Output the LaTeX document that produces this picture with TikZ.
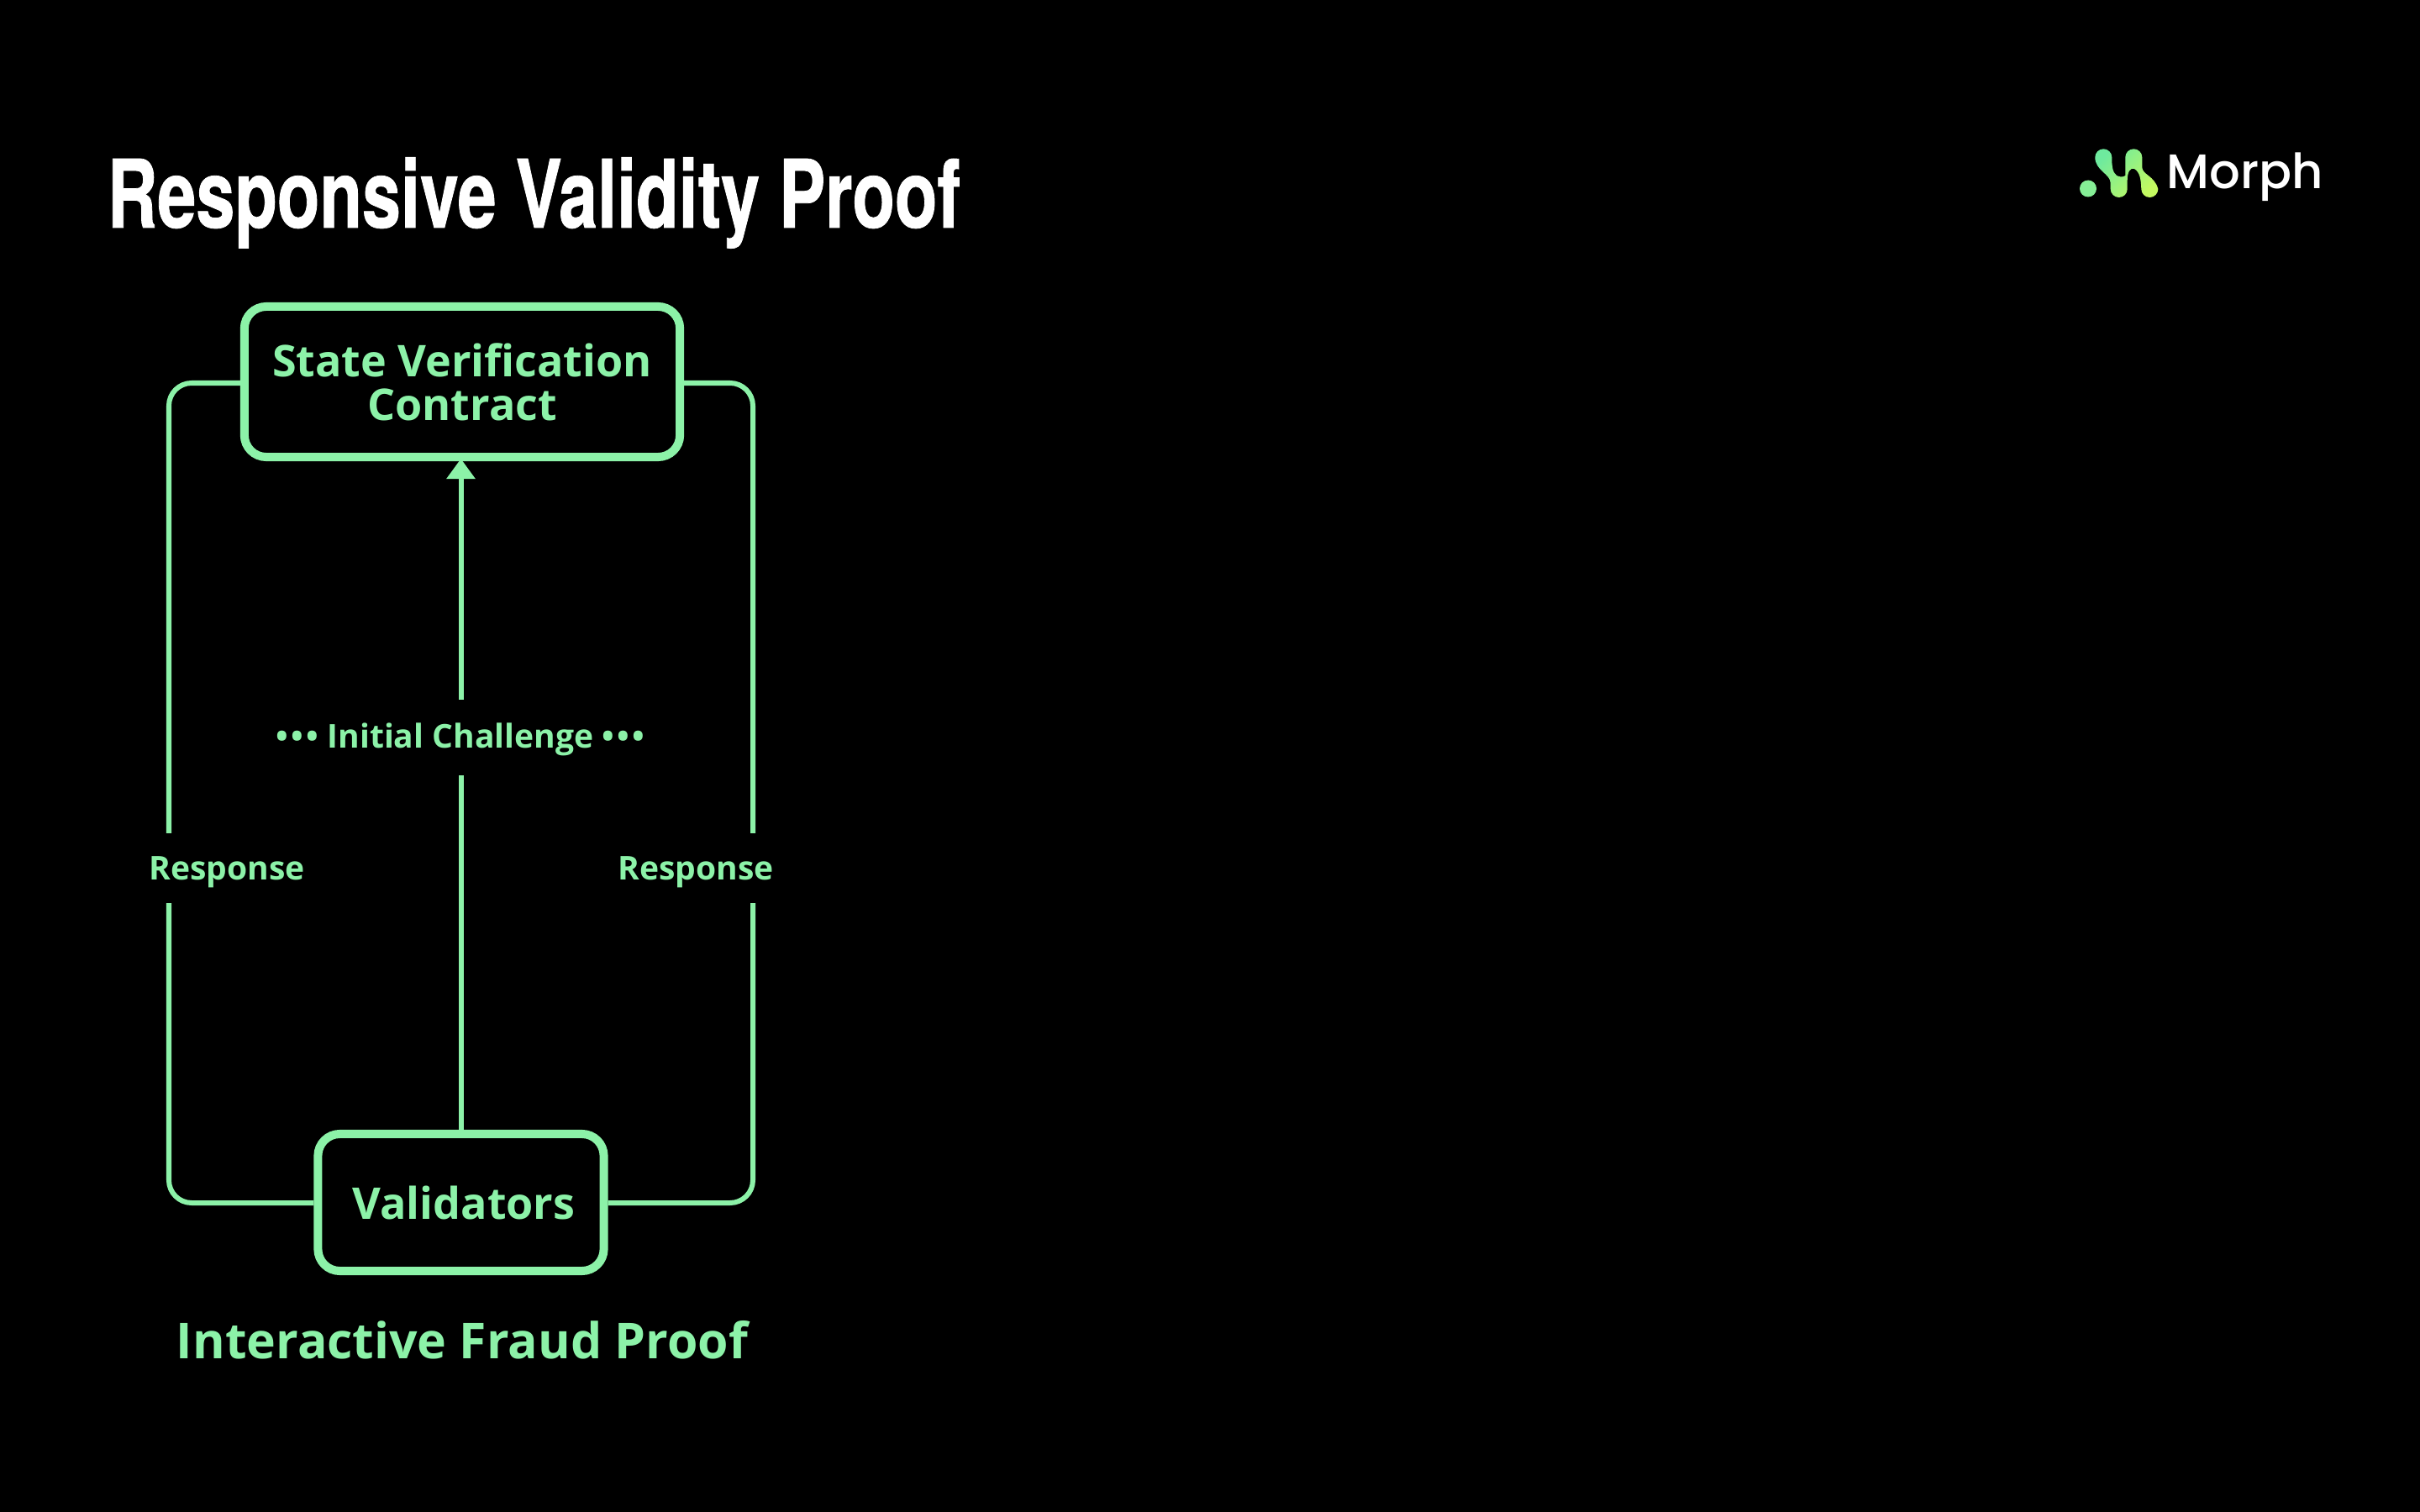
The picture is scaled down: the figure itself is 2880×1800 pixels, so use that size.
\documentclass[tikz,border=0pt]{standalone}
\usepackage{fontspec}
\usepackage{tikz}
\usetikzlibrary{arrows.meta,calc}
\setmainfont{Open Sans}
\newfontfamily\titlefont[FakeStretch=0.735,BoldFeatures={FakeBold=0.7}]{TeX Gyre Heros}
\newfontfamily\logofont[UprightFont=* Medium]{Poppins}
\definecolor{mint}{HTML}{8CF2A8}
\definecolor{limeglow}{HTML}{C4FA60}
\definecolor{tealglow}{HTML}{6EEA9E}
\definecolor{dotglow}{HTML}{85EE96}
\newcommand{\dotrow}{•\kern1pt•\kern1pt•}

\begin{document}
\begin{tikzpicture}[
    x=0.01cm, y=-0.01cm,
    box/.style={draw=mint, rounded corners=0.26cm, line width=0.1cm, fill=black, text=mint, align=center, font=\fontsize{14.8}{14.8}\selectfont\bfseries, inner sep=0pt},
    link/.style={draw=mint, line width=0.06cm, rounded corners=0.27cm},
    tag/.style={anchor=base, fill=black, text=mint, font=\fontsize{11.1}{13}\selectfont\bfseries, inner sep=0pt}
  ]
    \fill[black] (0,0) rectangle (2880,1800);
    \useasboundingbox (0,0) rectangle (2880,1800);

    \node[anchor=base west, text=white, font=\fontsize{32}{34}\selectfont\titlefont\bfseries, inner sep=0pt] (title) at (127,271) {Responsive Validity Proof};

    \node[box, minimum width=5.18cm, minimum height=1.79cm] (contract) at (550,454.5) {State Verification\\Contract};
    \node[box, minimum width=3.4cm, minimum height=1.63cm] (validators) at (548.5,1431.5) {\hspace*{2pt}Validators};

    \coordinate (upleft) at (201,456);
    \coordinate (upright) at (896,456);
    \coordinate (lowleft) at (201,1432);
    \coordinate (lowright) at (896,1432);

    \draw[link] (contract.west |- upleft) -- (upleft) -- (lowleft) -- (validators.west |- lowleft);
    \draw[link] (contract.east |- upright) -- (upright) -- (lowright) -- (validators.east |- lowright);
    \draw[draw=mint, line width=0.06cm, -{Triangle[length=0.24cm, width=0.33cm]}, shorten >=-0.03cm] (validators.north) -- (validators.north |- contract.south);

    \node[tag, text height=0.57cm, text depth=0.33cm] (challenge) at (548,890) {\dotrow\ Initial Challenge\ \dotrow};
    \node[tag, text height=0.55cm, text depth=0.28cm] (respleft) at (270,1047) {Response};
    \node[tag, text height=0.55cm, text depth=0.28cm] (respright) at (828,1047) {Response};

    \node[text=mint, font=\fontsize{16.75}{18}\selectfont\bfseries, inner sep=0pt] (caption) at (550,1595) {Interactive Fraud Proof};

    \fill[dotglow] (2485,224.5) circle (10);
    \shade[left color=tealglow, right color=limeglow, shading angle=45]
      (2493.3,187.3) arc[start angle=180, end angle=360, radius=10]
      .. controls (2513.3,198) and (2514,205) .. (2519,209)
      .. controls (2523,211) and (2527,211) .. (2529.3,209)
      -- (2529.3,187.3) arc[start angle=180, end angle=360, radius=10]
      -- (2549.3,199) .. controls (2549.3,208) and (2564,209) .. (2568.3,225)
      arc[start angle=0, end angle=180, radius=10]
      -- (2548.3,225) .. controls (2548,215) and (2547,205) .. (2540,201)
      .. controls (2535,199) and (2531.7,205) .. (2531.7,215)
      -- (2531.7,225) arc[start angle=0, end angle=180, radius=10]
      -- (2511.7,218) .. controls (2511.7,207) and (2493.3,203) .. (2493.3,187.3) -- cycle;
    \node[anchor=base west, text=white, font=\fontsize{16.4}{18}\selectfont\logofont, inner sep=0pt] (logo) at (2578,225) {Morph};
  \end{tikzpicture}
\end{document}
